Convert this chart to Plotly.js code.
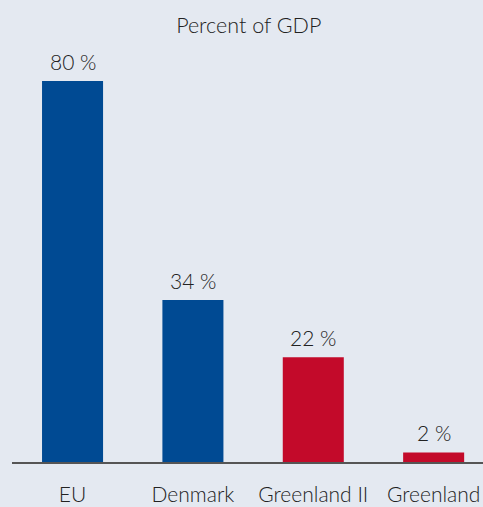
<!DOCTYPE html>
<html>
<head>
<meta charset="utf-8">
<script src="https://cdn.plot.ly/plotly-3.0.1.min.js"></script>
<style>html,body{margin:0;padding:0;background:#e4e9f1;}#chart{width:483px;height:507px;}</style>
</head>
<body>
<div id="chart"></div>
<script>
var categories = ["EU", "Denmark", "Greenland II", "Greenland"];
var values = [80, 34, 22, 2];
var valueLabels = ["80 %", "34 %", "22 %", "2 %"];
var colors = ["#004a93", "#004a93", "#c30a2a", "#c30a2a"];

var FONT = "Lato, 'Open Sans', sans-serif";

var trace = {
  type: "bar",
  x: categories,
  y: values,
  marker: {color: colors},
  width: 0.507,
  hoverinfo: "none"
};

var annotations = categories.map(function (c, i) {
  return {
    x: c, y: values[i], xref: "x", yref: "y",
    text: valueLabels[i], showarrow: false,
    yanchor: "bottom", yshift: 5,
    font: {family: FONT, size: 21, color: "#222", weight: 300}
  };
});

var layout = {
  width: 483, height: 507,
  margin: {l: 12, r: 0, t: 40, b: 45},
  paper_bgcolor: "#e4e9f1",
  plot_bgcolor: "rgba(0,0,0,0)",
  title: {text: "Percent of GDP", font: {family: FONT, size: 21.5, color: "#222", weight: 300}, x: 0.515, xanchor: "center", y: 0.95, yanchor: "middle"},
  showlegend: false,
  annotations: annotations,
  xaxis: {
    type: "category",
    range: [-0.503, 3.41],
    showline: true, linecolor: "#555", linewidth: 1.5,
    ticks: "outside", ticklen: 13, tickcolor: "rgba(0,0,0,0)",
    tickfont: {family: FONT, size: 21, color: "#222", weight: 300},
    showgrid: false, zeroline: false, fixedrange: true
  },
  yaxis: {
    range: [0, 88.6],
    visible: false, showgrid: false, zeroline: false, fixedrange: true
  }
};

Plotly.newPlot("chart", [trace], layout, {displayModeBar: false, staticPlot: true});
</script>
</body>
</html>
